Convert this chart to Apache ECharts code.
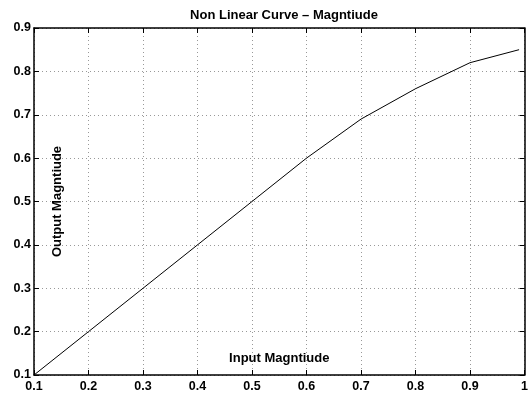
<!DOCTYPE html>
<html>
<head>
<meta charset="utf-8">
<script src="https://cdn.jsdelivr.net/npm/echarts@6/dist/echarts.min.js"></script>
<style>
html,body{margin:0;padding:0;background:#fff;}
#chart{width:531px;height:394px;}
</style>
</head>
<body>
<div id="chart"></div>
<script>
// input / output values
var inputMag = [0.1, 0.2, 0.3, 0.4, 0.5, 0.6, 0.7, 0.8, 0.9, 0.99];
var outputMag = [0.1, 0.2, 0.3, 0.4, 0.5, 0.6, 0.69, 0.76, 0.82, 0.85];

var chart = echarts.init(document.getElementById('chart'));
var font = 'Liberation Sans, Arial, Helvetica, sans-serif';

function fmt(v){
	return String(+v.toFixed(1));
}

var pts = [];
for(var i = 0; i < inputMag.length; i++){
	pts.push([inputMag[i], outputMag[i]]);
}

var axisLine = {show: true, lineStyle: {color: '#000', width: 1.5}};
var tick = {show: true, inside: true, length: 5, lineStyle: {color: '#000', width: 1}};

chart.setOption({
	animation: false,
	backgroundColor: '#fff',
	title: {
		text: 'Non Linear Curve \u2013 Magntiude',
		left: 279, textAlign: 'center', top: 4,
		textStyle: {fontFamily: font, fontSize: 13, fontWeight: 'bold', color: '#000'}
	},
	grid: {left: 34, right: 5, top: 28, bottom: 19, containLabel: false},
	xAxis: [{
		type: 'value', min: 0.1, max: 1, interval: 0.1, position: 'bottom',
		name: 'Input Magntiude', nameLocation: 'middle', nameGap: -23,
		nameTextStyle: {fontFamily: font, fontSize: 13, fontWeight: 'bold', color: '#000'},
		axisLine: axisLine, axisTick: tick,
		axisLabel: {fontFamily: font, fontSize: 12.5, fontWeight: 'bold', color: '#000', margin: 5, formatter: fmt},
		splitLine: {show: true, lineStyle: {color: '#999', type: [1, 3], width: 1}}
	}, {
		type: 'value', min: 0.1, max: 1, interval: 0.1, position: 'top',
		axisLine: axisLine, axisTick: tick, axisLabel: {show: false}, splitLine: {show: false}
	}],
	yAxis: [{
		type: 'value', min: 0.1, max: 0.9, interval: 0.1, position: 'left',
		name: 'Output Magntiude', nameLocation: 'middle', nameGap: -30, nameRotate: 90,
		nameTextStyle: {fontFamily: font, fontSize: 13, fontWeight: 'bold', color: '#000'},
		axisLine: axisLine, axisTick: tick,
		axisLabel: {fontFamily: font, fontSize: 12.5, fontWeight: 'bold', color: '#000', margin: 3, formatter: fmt},
		splitLine: {show: true, lineStyle: {color: '#999', type: [1, 3], width: 1}}
	}, {
		type: 'value', min: 0.1, max: 0.9, interval: 0.1, position: 'right',
		axisLine: axisLine, axisTick: tick, axisLabel: {show: false}, splitLine: {show: false}
	}],
	series: [{
		type: 'line',
		data: pts,
		showSymbol: false,
		lineStyle: {color: '#000', width: 1},
		z: 5
	}]
});
</script>
</body>
</html>
